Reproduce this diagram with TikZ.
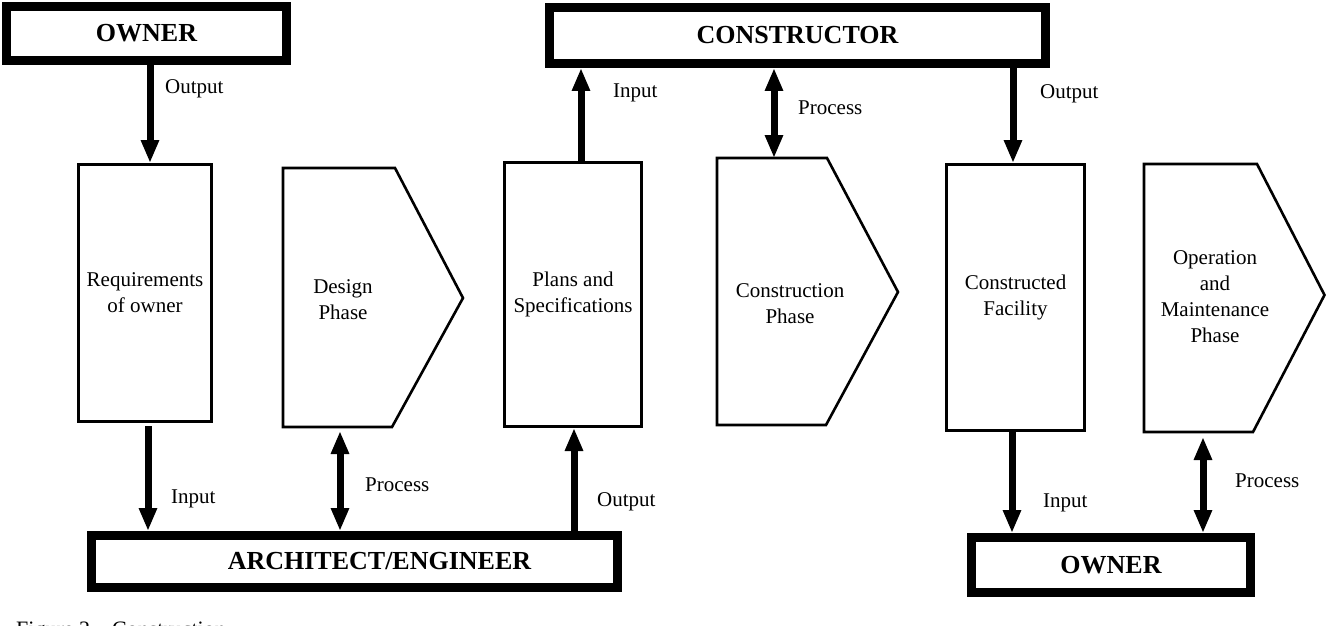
\documentclass[tikz,border=0pt]{standalone}
\usepackage{fontspec}
\setmainfont{Liberation Serif}
\usetikzlibrary{arrows.meta}
\begin{document}
\begin{tikzpicture}[x=1pt,y=-1pt]
\tikzset{
  thickbox/.style={draw, line width=9pt, inner sep=0pt, font=\bfseries\fontsize{26}{30}\selectfont},
  thinbox/.style={draw, line width=2.6pt, inner sep=0pt, align=center, font=\fontsize{21}{26}\selectfont},
  phase/.style={draw, line width=2.6pt, line join=miter},
  phasetext/.style={inner sep=0pt, align=center, font=\fontsize{21}{26}\selectfont},
  lbl/.style={font=\fontsize{21}{26}\selectfont, inner sep=0pt, anchor=west},
  flow/.style={line width=7pt, -{Triangle[length=23pt,width=17pt]}},
  flowboth/.style={line width=7pt, {Triangle[length=23pt,width=17pt]}-{Triangle[length=23pt,width=17pt]}},
}
\clip (0,0) rectangle (1326,626);
\fill[white] (0,0) rectangle (1326,626);

% top boxes
\node[thickbox, minimum width=280pt, minimum height=54pt] (own1) at (146.5,33.5) {OWNER};
\node[thickbox, minimum width=496pt, minimum height=56pt] (cons) at (797.5,35.5) {CONSTRUCTOR};

% bottom boxes
\node[thickbox, minimum width=526pt, minimum height=52pt] (ae) at (354.5,561.5) {\hspace*{50pt}ARCHITECT/ENGINEER};
\node[thickbox, minimum width=279pt, minimum height=55pt] (own2) at (1111,565) {OWNER};

% document boxes
\node[thinbox, minimum width=133.4pt, minimum height=257.4pt] (req) at (145,293) {Requirements\\of owner};
\node[thinbox, minimum width=137.4pt, minimum height=264.4pt] (plans) at (573,294.5) {Plans and\\Specifications};
\node[thinbox, minimum width=138.4pt, minimum height=266.4pt] (fac) at (1015.5,297.5) {Constructed\\Facility};

% phase shapes
\draw[phase] (283,168) -- (395,168) -- (463,298) -- (392,427) -- (283,427) -- cycle;
\node[phasetext] (design) at (343,300) {Design\\Phase};
\draw[phase] (717,158) -- (827,158) -- (898,292) -- (826,425) -- (717,425) -- cycle;
\node[phasetext] (constr) at (790,303.5) {Construction\\Phase};
\draw[phase] (1144,164) -- (1257,164) -- (1324.5,295) -- (1253,432) -- (1144,432) -- cycle;
\node[phasetext] (om) at (1215,296.5) {Operation\\and\\Maintenance\\Phase};

% connector end points
\coordinate (a1s) at ([xshift=3.5pt]own1.south);
\coordinate (a1e) at (a1s |- req.north);
\coordinate (a2s) at ([xshift=3pt,yshift=-3pt]req.south);
\coordinate (a2e) at (a2s |- ae.north);
\coordinate (designS) at (340,431);
\coordinate (a3e) at (designS |- ae.north);
\coordinate (a4e) at ([xshift=1pt]plans.south);
\coordinate (a4s) at (a4e |- ae.north);
\coordinate (a5s) at ([xshift=8pt]plans.north);
\coordinate (a5e) at (a5s |- cons.south);
\coordinate (constrN) at (774,158);
\coordinate (a6s) at (constrN |- cons.south);
\coordinate (a7e) at ([xshift=-2.5pt]fac.north);
\coordinate (a7s) at (a7e |- cons.south);
\coordinate (a8s) at ([xshift=-3.5pt]fac.south);
\coordinate (a8e) at (a8s |- own2.north);
\coordinate (omS) at (1203,437);
\coordinate (a9e) at (omS |- own2.north);

% connectors
\draw[flow] (a1s) -- (a1e);
\draw[flow] (a2s) -- (a2e);
\draw[flowboth] (designS) -- (a3e);
\draw[flow] (a4s) -- (a4e);
\draw[flow] (a5s) -- (a5e);
\draw[flowboth] (a6s) -- (constrN);
\draw[flow] (a7s) -- (a7e);
\draw[flow] (a8s) -- (a8e);
\draw[flowboth] (omS) -- (a9e);

% labels
\node[lbl] (l1) at (165,89) {Output};
\node[lbl] (l2) at (171,499) {Input};
\node[lbl] (l3) at (365,485) {Process};
\node[lbl] (l4) at (597,502) {Output};
\node[lbl] (l5) at (613,93) {Input};
\node[lbl] (l6) at (798,108) {Process};
\node[lbl] (l7) at (1040,94) {Output};
\node[lbl] (l8) at (1043,503) {Input};
\node[lbl] (l9) at (1235,481) {Process};

% caption (cut off at the bottom edge)
\node[anchor=base west, inner sep=0pt, font=\fontsize{22}{26}\selectfont] (cap) at (16,636) {Figure 2\quad Construction};
\end{tikzpicture}
\end{document}
